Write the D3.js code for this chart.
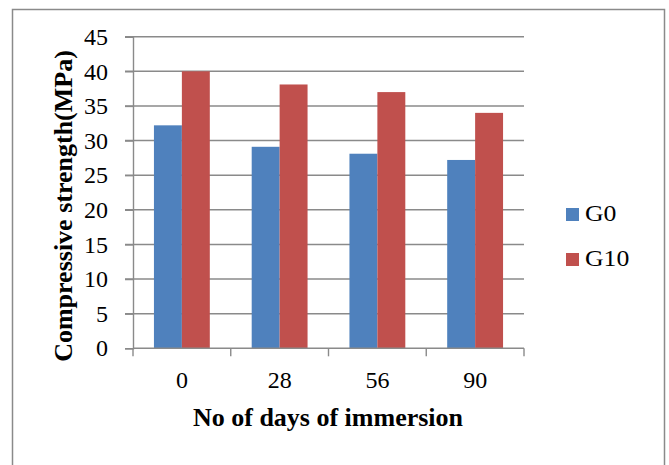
<!DOCTYPE html>
<html>
<head>
<meta charset="utf-8">
<script src="https://cdn.jsdelivr.net/npm/d3@7"></script>
<style>
  html, body { margin: 0; padding: 0; background: #fff; }
  svg { display: block; }
  text { font-family: "Liberation Serif", "Times New Roman", serif; fill: #000; }
</style>
</head>
<body>
<svg id="chart" width="669" height="465"></svg>
<script>
// Compressive strength after immersion
const days = ["0", "28", "56", "90"];
const seriesNames = ["G0", "G10"];
const g0Values = [32.2, 29.1, 28.1, 27.2];
const g10Values = [40, 38.1, 37, 34];
const yTicks = [0, 5, 10, 15, 20, 25, 30, 35, 40, 45];
const colors = ["#4F81BD", "#C0504D"];

const seriesValues = [g0Values, g10Values];

const svg = d3.select("#chart");

// outer frame
svg.append("rect")
  .attr("x", 12.5).attr("y", 9.5)
  .attr("width", 652).attr("height", 460)
  .attr("fill", "#fff")
  .attr("stroke", "#8a8a8a").attr("stroke-width", 1.5);

const plot = { left: 133, right: 524, top: 36.7, bottom: 348.3 };

const x = d3.scaleBand()
  .domain(days)
  .range([plot.left, plot.right])
  .paddingInner(0).paddingOuter(0);

const y = d3.scaleLinear()
  .domain([0, 45])
  .range([plot.bottom, plot.top]);

// gridlines
svg.append("g")
  .selectAll("line")
  .data(yTicks.filter(d => d > 0))
  .join("line")
  .attr("x1", plot.left - 8).attr("x2", plot.right)
  .attr("y1", d => y(d)).attr("y2", d => y(d))
  .attr("stroke", "#8a8a8a").attr("stroke-width", 1.4);

// bars: Excel-style 150% gap width
const bw = x.bandwidth() / 3.5;
const groups = svg.append("g")
  .selectAll("g")
  .data(days)
  .join("g")
  .attr("transform", d => `translate(${x(d) + bw * 0.75},0)`);

seriesNames.forEach((name, si) => {
  groups.append("rect")
    .attr("x", si * bw)
    .attr("width", bw)
    .attr("y", (d, i) => y(seriesValues[si][i]))
    .attr("height", (d, i) => y(0) - y(seriesValues[si][i]))
    .attr("fill", colors[si]);
});

// y axis
const yAxis = d3.axisLeft(y)
  .tickValues(yTicks)
  .tickSize(8)
  .tickPadding(17)
  .tickFormat(d3.format("d"));
const yg = svg.append("g")
  .attr("transform", `translate(${plot.left},0)`)
  .call(yAxis);
yg.select(".domain").attr("stroke", "#8a8a8a").attr("stroke-width", 1.4);
yg.selectAll(".tick line").attr("stroke", "#8a8a8a").attr("stroke-width", 1.4);
yg.selectAll(".tick text")
  .attr("font-size", 24)
  .attr("font-family", "Liberation Serif, serif")
  .attr("fill", "#000");

// x axis: ticks at category boundaries
const xBase = svg.append("g").attr("transform", `translate(0,${plot.bottom})`);
xBase.append("line")
  .attr("x1", plot.left).attr("x2", plot.right)
  .attr("y1", 0).attr("y2", 0)
  .attr("stroke", "#8a8a8a").attr("stroke-width", 1.4);
const bounds = days.map(d => x(d)).concat([plot.right]);
xBase.selectAll("line.tick")
  .data(bounds)
  .join("line")
  .attr("class", "tick")
  .attr("x1", d => d).attr("x2", d => d)
  .attr("y1", 0).attr("y2", 8)
  .attr("stroke", "#8a8a8a").attr("stroke-width", 1.4);
xBase.selectAll("text")
  .data(days)
  .join("text")
  .attr("x", d => x(d) + x.bandwidth() / 2)
  .attr("y", 40)
  .attr("text-anchor", "middle")
  .attr("font-size", 24)
  .text(d => d);

// axis titles
svg.append("text")
  .attr("x", 328).attr("y", 426)
  .attr("text-anchor", "middle")
  .attr("font-size", 26)
  .attr("font-weight", "bold")
  .text("No of days of immersion");

svg.append("text")
  .attr("transform", "translate(72,206) rotate(-90)")
  .attr("text-anchor", "middle")
  .attr("font-size", 26)
  .attr("font-weight", "bold")
  .text("Compressive strength(MPa)");

// legend
const legend = svg.append("g")
  .selectAll("g")
  .data(seriesNames)
  .join("g")
  .attr("transform", (d, i) => `translate(566,${208 + i * 45})`);
legend.append("rect")
  .attr("width", 13).attr("height", 13)
  .attr("fill", (d, i) => colors[i]);
legend.append("text")
  .attr("transform", "translate(19,13) scale(1.12,1)")
  .attr("font-size", 23)
  .text(d => d);
</script>
</body>
</html>
